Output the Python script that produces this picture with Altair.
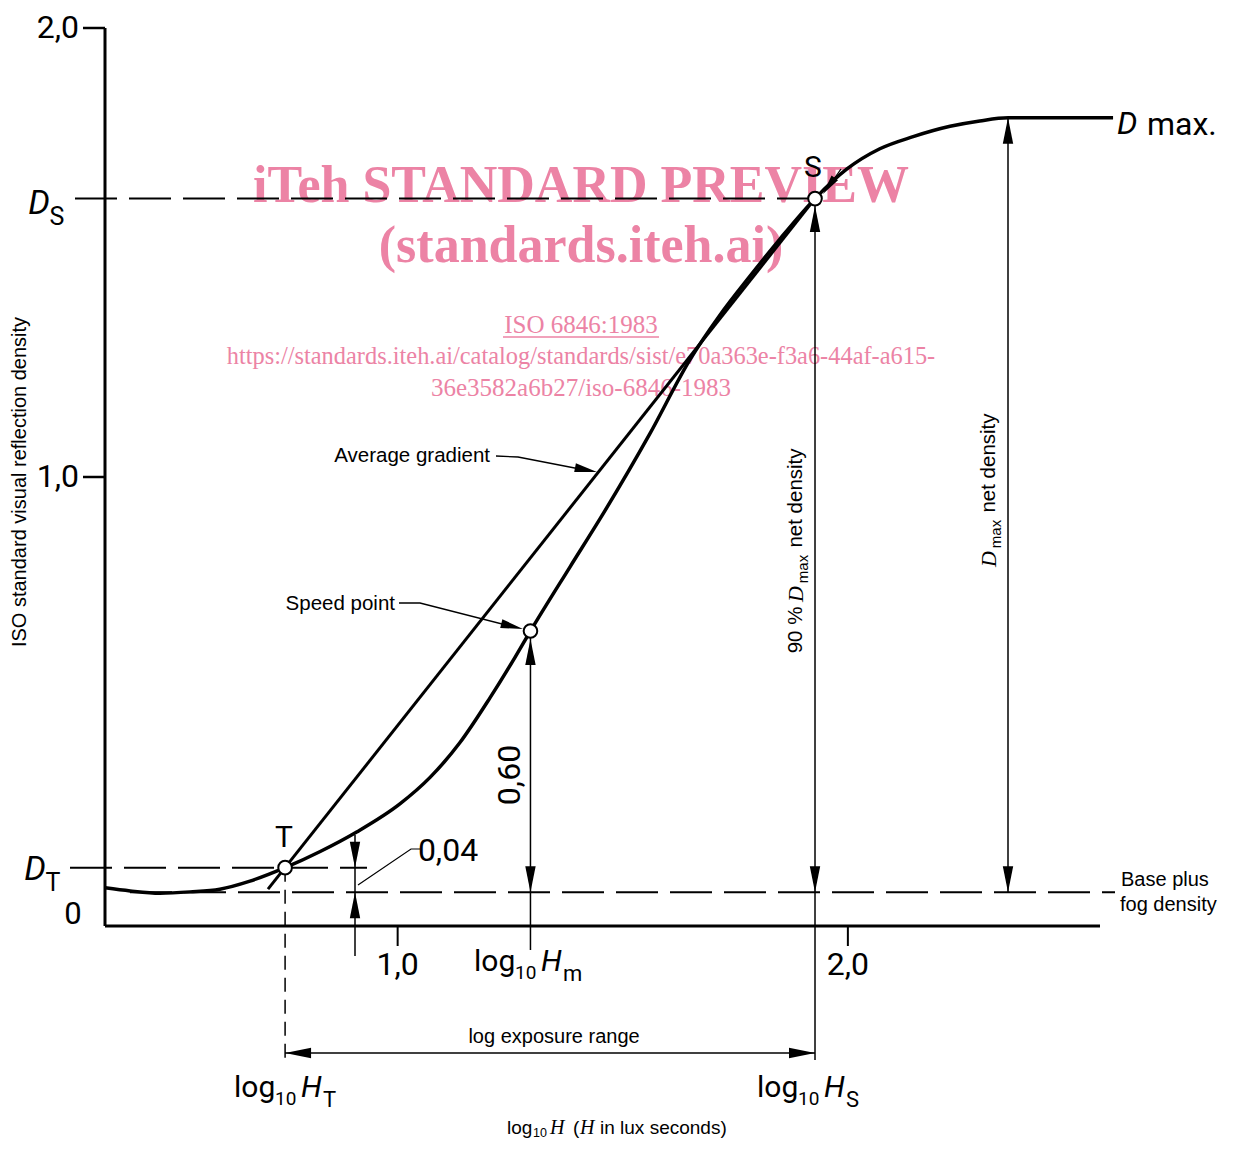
import altair as alt
import pandas as pd

# ---------------- data ----------------
LOG_H = [0.350, 0.406, 0.472, 0.539, 0.605, 0.672, 0.750, 0.828, 0.910, 1.005,
         1.072, 1.138, 1.205, 1.261, 1.295, 1.383, 1.449, 1.560, 1.649, 1.716,
         1.783, 1.849, 1.927, 1.998, 2.071, 2.145, 2.227, 2.293, 2.356, 2.449, 2.589]
DENSITY = [0.085, 0.078, 0.073, 0.076, 0.082, 0.100, 0.130, 0.166, 0.210, 0.272,
           0.331, 0.408, 0.508, 0.599, 0.657, 0.800, 0.906, 1.096, 1.261, 1.361,
           1.448, 1.530, 1.620, 1.686, 1.731, 1.758, 1.781, 1.793, 1.800, 1.800, 1.800]

FOG = 0.075      # base plus fog density
D_T = 0.13       # density at point T
D_S = 1.62       # density at point S (90 % Dmax net)
D_MAX = 1.80
LOG_HT = 0.75
LOG_HM = 1.295
LOG_HS = 1.927
SP_D = 0.657     # speed point density
AG_X = [0.712, 1.927]   # average gradient line (through T and S)
AG_Y = [0.082, 1.620]
X_TICKS = [1.0, 2.0]
X_TICK_LABELS = ["1,0", "2,0"]
Y_TICKS = [1.0, 2.0]
Y_TICK_LABELS = ["1,0", "2,0"]

# ---------------- layout helpers ----------------
OX, OY = 105, 28            # page position of plot origin
W, H = 995, 898
XMIN, XMAX = 0.35, 2.56
YMIN, YMAX = 0.0, 2.0
PXU = W / (XMAX - XMIN)
PYU = H / (YMAX - YMIN)


def xd(px):
    return XMIN + (px - OX) / PXU


def yd(py):
    return (OY + H - py) / PYU


XS = alt.Scale(domain=[XMIN, XMAX], nice=False, zero=False)
YS = alt.Scale(domain=[YMIN, YMAX], nice=False, zero=False)
ONE = pd.DataFrame({"k": [0]})

FD = "Roboto, DejaVu Sans, sans-serif"
FA = "Liberation Sans, Arial, sans-serif"
FS = "Liberation Serif, Times New Roman, serif"
PINK = "#ec83a5"


def XD(v):
    return alt.XDatum(v, type="quantitative", scale=XS, axis=None)


def YD(v):
    return alt.YDatum(v, type="quantitative", scale=YS, axis=None)


def rule(x1, y1, x2=None, y2=None, w=1.5, dash=None, color="black"):
    enc = dict(x=XD(x1), y=YD(y1))
    if x2 is not None:
        enc["x2"] = alt.X2Datum(x2)
    if y2 is not None:
        enc["y2"] = alt.Y2Datum(y2)
    kw = dict(color=color, strokeWidth=w)
    if dash:
        kw["strokeDash"] = dash
    return alt.Chart(ONE).mark_rule(**kw).encode(**enc)


def polyline(pts, w=1.3):
    df = pd.DataFrame({"x": [xd(p[0]) for p in pts], "y": [yd(p[1]) for p in pts],
                       "i": list(range(len(pts)))})
    return alt.Chart(df).mark_line(color="black", strokeWidth=w).encode(
        x=alt.X("x:Q", scale=XS, axis=None), y=alt.Y("y:Q", scale=YS, axis=None),
        order="i:Q")


ARROW = "M0,0L-2,-0.4L-2,0.4Z"   # tip at origin, pointing right


def arrow(x, y, ang, size=676):
    return alt.Chart(ONE).mark_point(shape=ARROW, size=size, filled=True, color="black",
                                     opacity=1, strokeWidth=0, angle=ang).encode(
        x=XD(x), y=YD(y))


def txt(s, px, py, size, font=FD, style="normal", align="center", angle=0,
        weight="normal", color="black", baseline="middle", xdat=None, ydat=None):
    enc = {}
    enc["x"] = XD(xdat) if xdat is not None else alt.value(px - OX)
    enc["y"] = YD(ydat) if ydat is not None else alt.value(py - OY)
    return alt.Chart(ONE).mark_text(text=s, fontSize=size, font=font, fontStyle=style,
                                    fontWeight=weight, align=align, angle=angle,
                                    color=color, baseline=baseline).encode(**enc)


L = []

# watermark (behind everything)
L.append(txt("iTeh STANDARD PREVIEW", 581, 186, 52, font=FS, weight="bold", color=PINK))
L.append(txt("(standards.iteh.ai)", 581, 246, 52, font=FS, weight="bold", color=PINK))
L.append(txt("ISO 6846:1983", 581, 325, 25, font=FS, color=PINK))
L.append(alt.Chart(ONE).mark_rule(color=PINK, strokeWidth=1.5).encode(
    x=alt.value(503 - OX), x2=alt.value(659 - OX), y=alt.value(337 - OY)))
L.append(txt("https://standards.iteh.ai/catalog/standards/sist/e70a363e-f3a6-44af-a615-",
             581, 357, 24.4, font=FS, color=PINK))
L.append(txt("36e3582a6b27/iso-6846-1983", 581, 388, 25, font=FS, color=PINK))

# axes
L.append(rule(XMIN, 0.0, y2=2.0, w=3))
L.append(rule(XMIN, 0.0, x2=XMAX, w=3))
for yt in Y_TICKS:
    L.append(rule(xd(83), yt, x2=XMIN, w=2.5))
for xt in X_TICKS:
    L.append(rule(xt, 0.0, y2=yd(946), w=2))
for yt, lab in zip(Y_TICKS, Y_TICK_LABELS):
    L.append(txt(lab, 79, 0, 32, align="right", ydat=yt))
for xt, lab in zip(X_TICKS, X_TICK_LABELS):
    L.append(txt(lab, 0, 965, 32, xdat=xt))
L.append(txt("0", 73, 915, 31))

# dashed reference lines
DASH = [42, 12]
L.append(rule(xd(75), D_S, x2=LOG_HS, w=2, dash=DASH))
L.append(rule(xd(70), D_T, x2=xd(367), w=2, dash=DASH))
L.append(rule(xd(130), FOG, x2=xd(1115), w=2, dash=DASH))
L.append(rule(LOG_HT, D_T, y2=yd(1060), w=1.5, dash=[14, 8]))
L.append(rule(LOG_HS, FOG, y2=yd(1060), w=1.5))

# average gradient line & characteristic curve
L.append(alt.Chart(pd.DataFrame({"x": AG_X, "y": AG_Y})).mark_line(
    color="black", strokeWidth=3).encode(x=alt.X("x:Q", scale=XS, axis=None),
                                         y=alt.Y("y:Q", scale=YS, axis=None)))
L.append(alt.Chart(pd.DataFrame({"x": LOG_H, "y": DENSITY})).mark_line(
    color="black", strokeWidth=3.5, interpolate="monotone").encode(
    x=alt.X("x:Q", scale=XS, axis=None), y=alt.Y("y:Q", scale=YS, axis=None)))

# dimension lines with arrows
# 0,60 at speed point
L.append(rule(LOG_HM, yd(950), y2=SP_D, w=1.5))
L.append(arrow(LOG_HM, yd(639), 270))
L.append(arrow(LOG_HM, FOG, 90))
# 90 % Dmax at S
L.append(rule(LOG_HS, FOG, y2=yd(206), w=1.5))
L.append(arrow(LOG_HS, yd(206), 270))
L.append(arrow(LOG_HS, FOG, 90))
# Dmax net density
L.append(rule(xd(1008), FOG, y2=D_MAX, w=1.5))
L.append(arrow(xd(1008), D_MAX, 270))
L.append(arrow(xd(1008), FOG, 90))
# 0,04
L.append(rule(xd(355), yd(835), y2=yd(956), w=1.5))
L.append(arrow(xd(355), D_T, 90))
L.append(arrow(xd(355), FOG, 270))
L.append(polyline([(420, 849), (411, 849), (358, 885)], w=1.2))
# log exposure range
L.append(rule(LOG_HT, yd(1053), x2=LOG_HS, w=1.5))
L.append(arrow(LOG_HT, yd(1053), 180))
L.append(arrow(LOG_HS, yd(1053), 0))
# leaders
L.append(polyline([(496, 456), (518, 457), (585, 470)]))
L.append(arrow(xd(597), yd(472), 11, size=500))
L.append(polyline([(399, 603), (420, 603), (510, 626)]))
L.append(arrow(xd(523), yd(629), 14, size=500))
L.append(polyline([(841, 169), (829, 186)]))
L.append(arrow(xd(823), yd(194), 126, size=400))

# points T, speed point, S
PTS = pd.DataFrame({"x": [LOG_HT, LOG_HM, LOG_HS], "y": [D_T, SP_D, D_S]})
L.append(alt.Chart(PTS).mark_point(shape="circle", filled=True, fill="white", stroke="black",
                                   strokeWidth=2, size=185, opacity=1).encode(
    x=alt.X("x:Q", scale=XS, axis=None), y=alt.Y("y:Q", scale=YS, axis=None)))

# labels
L.append(txt("T", 284, 838, 30))
L.append(txt("S", 813, 168, 30))
L.append(txt("D", 39, 204, 34, style="italic"))
L.append(txt("S", 57, 217, 25))
L.append(txt("D", 35, 870, 34, style="italic"))
L.append(txt("T", 53, 883, 25))
L.append(txt("0,04", 448, 851, 32))
L.append(txt("0,60", 510, 775, 32, angle=270))
L.append(txt("D", 1117, 124, 32, style="italic", align="left"))
L.append(txt("max.", 1147, 125, 32, align="left"))
L.append(txt("Base plus", 1121, 880, 20, font=FA, align="left"))
L.append(txt("fog density", 1120, 905, 20, font=FA, align="left"))
L.append(txt("Average gradient", 490, 456, 20.5, font=FA, align="right"))
L.append(txt("Speed point", 395, 604, 20.5, font=FA, align="right"))
L.append(txt("log exposure range", 554, 1037, 20, font=FA))
L.append(txt("ISO standard visual reflection density", 20, 482, 20, font=FA, angle=270))

# log10 H_m
L.append(txt("log", 474, 962, 30, align="left"))
L.append(txt("10", 515, 973, 19, align="left"))
L.append(txt("H", 541, 962, 30, style="italic", align="left"))
L.append(txt("m", 563, 974, 22, align="left"))
# log10 H_T
L.append(txt("log", 234, 1088, 30, align="left"))
L.append(txt("10", 275, 1099, 19, align="left"))
L.append(txt("H", 301, 1088, 30, style="italic", align="left"))
L.append(txt("T", 323, 1100, 22, align="left"))
# log10 H_S
L.append(txt("log", 757, 1088, 30, align="left"))
L.append(txt("10", 798, 1099, 19, align="left"))
L.append(txt("H", 824, 1088, 30, style="italic", align="left"))
L.append(txt("S", 846, 1100, 22, align="left"))
# axis title
TY = 1128
L.append(txt("log", 507, TY, 19, font=FA, align="left"))
L.append(txt("10", 533, TY + 5, 12.5, font=FA, align="left"))
L.append(txt("H", 550, TY, 20, font=FS, style="italic", align="left"))
L.append(txt("(", 573, TY, 19, font=FA, align="left"))
L.append(txt("H", 580, TY, 20, font=FS, style="italic", align="left"))
L.append(txt("in lux seconds)", 600, TY, 19, font=FA, align="left"))
# rotated 90 % Dmax net density
L.append(txt("90 %", 796, 630, 20.5, font=FA, angle=270))
L.append(txt("D", 796, 594, 22, font=FS, style="italic", angle=270))
L.append(txt("max", 803, 569, 15, font=FA, angle=270))
L.append(txt("net density", 796, 498, 20.5, font=FA, angle=270))
# rotated Dmax net density
L.append(txt("D", 989, 559, 22, font=FS, style="italic", angle=270))
L.append(txt("max", 996, 534, 15, font=FA, angle=270))
L.append(txt("net density", 989, 463, 20.5, font=FA, angle=270))

chart = alt.layer(*L).properties(
    width=W, height=H,
    autosize=alt.AutoSizeParams(type="none"),
    padding={"left": OX - 8, "top": OY - 8, "right": 125, "bottom": 215},
).configure_view(stroke=None)

chart.save("out.html", embed_options={"renderer": "svg", "actions": False})
